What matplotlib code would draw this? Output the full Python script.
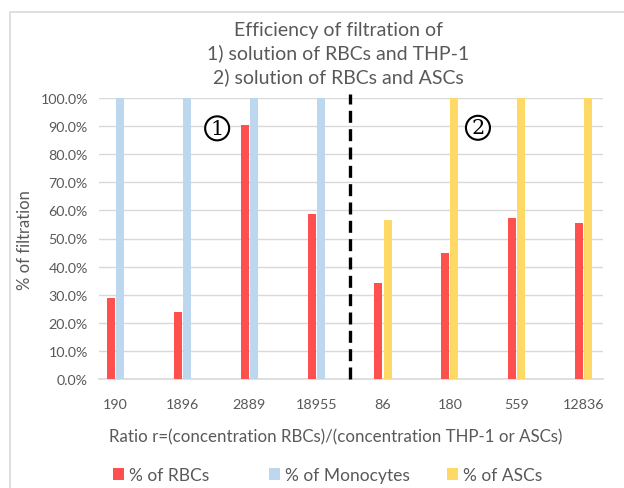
import matplotlib.pyplot as plt
import matplotlib.patches as mpatches
import numpy as np

ratios = ['190', '1896', '2889', '18955', '86', '180', '559', '12836']
rbc = [28.7, 23.9, 90.4, 58.6, 34.0, 45.0, 57.3, 55.6]
monocytes = [100, 100, 100, 100, np.nan, np.nan, np.nan, np.nan]
ascs = [np.nan, np.nan, np.nan, np.nan, 56.7, 100, 100, 100]

divider = 3.5
red = '#FF5050'
blue = '#BDD7EE'
yellow = '#FFD966'
grey_txt = '#595959'

plt.rcParams['font.family'] = ['Lato', 'DejaVu Sans']

fig = plt.figure(figsize=(6.24, 4.89), dpi=100)
ax = fig.add_axes([99/624, 1 - 380/489, 504/624, 281/489])

x = np.arange(len(ratios))
w = 0.12
off = 0.068
b1 = ax.bar(x - off, rbc, w, color=red, label='% of RBCs', zorder=3)
b2 = ax.bar(x + off, monocytes, w, color=blue, label='% of Monocytes', zorder=3)
b3 = ax.bar(x + off, ascs, w, color=yellow, label='% of ASCs', zorder=3)

# separator between experiment 1 and 2
ax.plot([divider, divider], [0, 101.5], color='black', lw=2.4,
        linestyle=(0, (3.6, 1.9)), clip_on=False, zorder=4)

ax.set_xlim(-0.247, 7.29)
ax.set_ylim(0, 100)
ax.set_yticks(np.arange(0, 101, 10))
ax.set_yticklabels([f'{v:.1f}%' for v in np.arange(0, 101, 10)])
ax.set_xticks(x)
ax.set_xticklabels(ratios)
ax.tick_params(length=0, labelsize=10.3, colors=grey_txt)
ax.tick_params(axis='x', pad=14)
ax.tick_params(axis='y', pad=8)
ax.grid(axis='y', color='#D9D9D9', lw=1, zorder=0)
for s in ['top', 'right', 'left']:
    ax.spines[s].set_visible(False)
ax.spines['bottom'].set_color('#D9D9D9')
ax.spines['bottom'].set_linewidth(1.2)

circ = dict(boxstyle='circle,pad=0.12', fc='white', ec='black', lw=1.5)
ax.text(1.52, 89.2, '1', family='DejaVu Serif', fontsize=15, ha='center',
        va='center', bbox=circ, zorder=5)
ax.text(5.42, 89.4, '2', family='DejaVu Serif', fontsize=15, ha='center',
        va='center', bbox=circ, zorder=5)

fig.text(338/624, 1 - 22/489,
         'Efficiency of filtration of\n1) solution of RBCs and THP-1\n2) solution of RBCs and ASCs',
         ha='center', va='top', fontsize=14, color=grey_txt, linespacing=1.37)
fig.text(25/624, 1 - 240/489, '% of filtration', rotation=90, ha='center',
         va='center', fontsize=12, color=grey_txt)
fig.text(336/624, 1 - 437/489,
         'Ratio r=(concentration RBCs)/(concentration THP-1 or ASCs)',
         ha='center', va='center', fontsize=12.2, color=grey_txt)

for h, lx in zip([b1, b2, b3], [113, 269, 447]):
    fig.legend(handles=[h], loc='center left', bbox_to_anchor=(lx/624, 1 - 476/489),
               frameon=False, fontsize=12.5, handlelength=0.65, handleheight=0.65,
               handletextpad=0.25, borderpad=0, borderaxespad=0, labelcolor=grey_txt)

fig.patches.append(mpatches.Rectangle((10/624, -0.1), 1.2, 1 - 13/489 + 0.1,
                                      transform=fig.transFigure, fill=False,
                                      ec='#D9D9D9', lw=1.2))

plt.savefig('out.png', dpi=100)
